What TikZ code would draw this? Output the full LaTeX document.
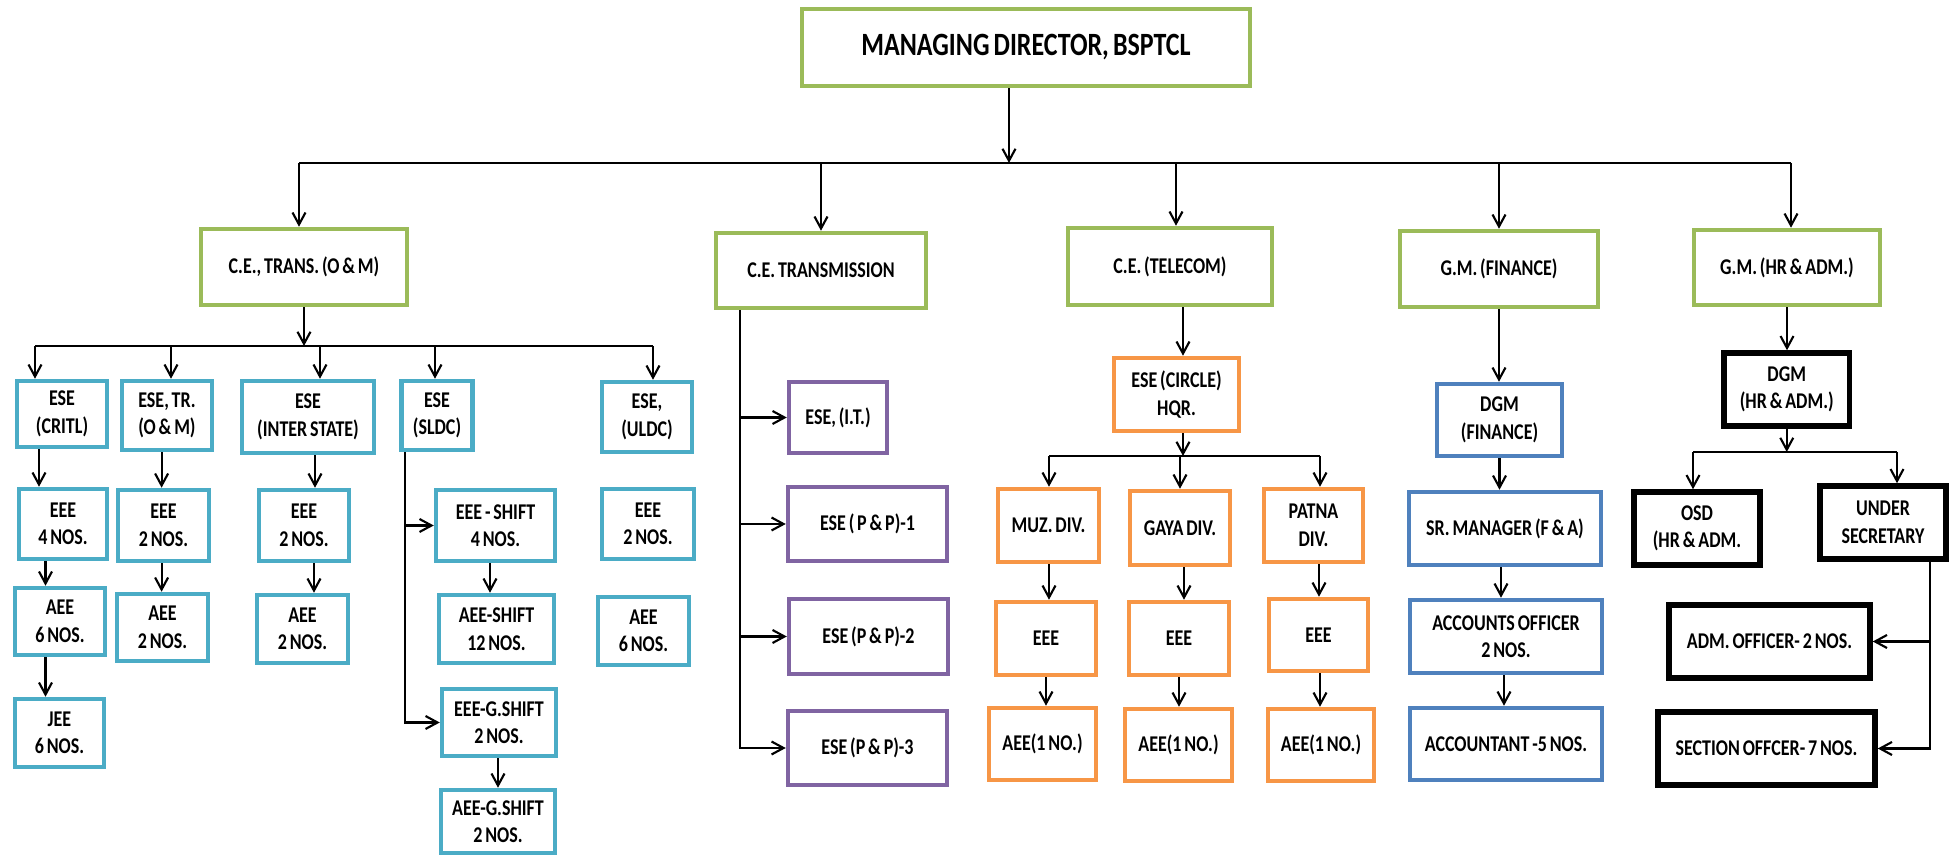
\documentclass[tikz,border=0pt]{standalone}
\usepackage{fontspec}
\setmainfont{Carlito}[FakeStretch=0.8, WordSpace=0.7]
\usetikzlibrary{arrows.meta}

\definecolor{topgreen}{HTML}{9BBB59}
\definecolor{omcyan}{HTML}{4BACC6}
\definecolor{trpurple}{HTML}{8064A2}
\definecolor{telorange}{HTML}{F79646}
\definecolor{finblue}{HTML}{4F81BD}

\tikzset{
  post/.style={draw, line width=1.8pt, fill=white, align=center, inner sep=1pt,
    font=\bfseries\fontsize{9}{11}\selectfont},
  sz/.style 2 args={minimum width={(#1-4)*0.4pt}, minimum height={(#2-4)*0.4pt}},
  gbox/.style={post, draw=topgreen},
  cbox/.style={post, draw=omcyan},
  pbox/.style={post, draw=trpurple},
  obox/.style={post, draw=telorange},
  bbox/.style={post, draw=finblue},
  kbox/.style={post, draw=black, line width=2.2pt},
  bus/.style={line width=1.1pt}
}

\begin{document}
\begin{tikzpicture}[x=0.4pt, y=-0.4pt, >={Straight Barb[length=4.8pt, width=5.2pt]}, line width=0.85pt]
        \useasboundingbox (0,0) rectangle (1954,857);

        % the Managing Director at the top
        \node[gbox, sz={452}{81}, font=\bfseries\fontsize{13}{15}\selectfont] (md) at (1026,47.5) {MANAGING DIRECTOR, BSPTCL};

        % the five boxes under the MD
        \node[gbox, sz={210}{80}] (ceom) at (304,267) {C.E., TRANS. (O \& M)};
        \node[gbox, sz={214}{79}] (cetr) at (821,270.5) {C.E. TRANSMISSION};
        \node[gbox, sz={208}{81}] (cetel) at (1170,266.5) {C.E. (TELECOM)};
        \node[gbox, sz={202}{80}] (gmfin) at (1499,269) {G.M. (FINANCE)};
        \node[gbox, sz={190}{79}] (gmhr) at (1787,267.5) {G.M. (HR \& ADM.)};

        % The bus below the MD
        \coordinate (mdbusL) at (299,163);
        \coordinate (mdbusR) at (1791,163);
        \draw[bus] (mdbusL) -- (mdbusR);
        \draw[->] (md.south -| 1009,0) -- (1009,163);
        \draw[->] (mdbusL) -- (mdbusL |- ceom.north);
        \draw[->] (cetr |- mdbusL) -- (cetr);
        \draw[->] (1176,163) -- (cetel.north -| 1176,0);
        \draw[->] (gmfin |- mdbusL) -- (gmfin);
        \draw[->] (mdbusR) -- (mdbusR |- gmhr.north);

        % first row under C.E., TRANS. (O & M)
        \node[cbox, sz={94}{70}] (critl) at (62,414) {ESE\\(CRITL)};
        \node[cbox, sz={94}{73}] (tromn) at (167,415.5) {ESE, TR.\\(O \& M)};
        \node[cbox, sz={136}{76}] (inter) at (308,417) {ESE\\(INTER STATE)};
        \node[cbox, sz={75}{73}] (sldc) at (437,415.5) {ESE\\(SLDC)};
        \node[cbox, sz={94}{74}] (uldc) at (647,417) {ESE,\\(ULDC)};

        % the bus below C.E., TRANS. (O & M)
        \coordinate (ombusL) at (35,346);
        \coordinate (ombusR) at (653,346);
        \draw[bus] (ombusL) -- (ombusR);
        \draw[->] (ceom) -- (ceom |- ombusL);
        \draw[->] (ombusL) -- (ombusL |- critl.north);
        \draw[->] (171,346) -- (tromn.north -| 171,0);
        \draw[->] (320,346) -- (inter.north -| 320,0);
        \draw[->] (435,346) -- (sldc.north -| 435,0);
        \draw[->] (ombusR) -- (ombusR |- uldc.north);

        % the EEE row
        \node[cbox, sz={92}{74}] (eeea) at (63,524) {EEE\\4 NOS.};
        \node[cbox, sz={95}{75}] (eeeb) at (163.5,525.5) {EEE\\2 NOS.};
        \node[cbox, sz={94}{75}] (eeec) at (304,525.5) {EEE\\2 NOS.};
        \node[cbox, sz={123}{75}] (eeesh) at (495.5,525.5) {EEE - SHIFT\\4 NOS.};
        \node[cbox, sz={96}{74}] (eeee) at (648,524) {EEE\\2 NOS.};

        % the AEE row
        \node[cbox, sz={94}{71}] (aeea) at (60,621.5) {AEE\\6 NOS.};
        \node[cbox, sz={95}{71}] (aeeb) at (162.5,627.5) {AEE\\2 NOS.};
        \node[cbox, sz={95}{72}] (aeec) at (302.5,629) {AEE\\2 NOS.};
        \node[cbox, sz={119}{72}] (aeesh) at (496.5,629) {AEE-SHIFT\\12 NOS.};
        \node[cbox, sz={95}{72}] (aeee) at (643.5,631) {AEE\\6 NOS.};

        % JEE and the G.SHIFT boxes
        \node[cbox, sz={93}{72}] (jee) at (59.5,733) {JEE\\6 NOS.};
        \node[cbox, sz={118}{71}] (eeegs) at (499,722.5) {EEE-G.SHIFT\\2 NOS.};
        \node[cbox, sz={118}{67}] (aeegs) at (498,821.5) {AEE-G.SHIFT\\2 NOS.};

        % Arrow lines down the O & M columns
        \draw[->] (critl.south -| 39,0) -- (eeea.north -| 39,0);
        \draw[->] (eeea.south -| 45.5,0) -- (aeea.north -| 45.5,0);
        \draw[->] (aeea.south -| 45.5,0) -- (jee.north -| 45.5,0);
        \draw[->] (tromn.south -| 161.6,0) -- (eeeb.north -| 161.6,0);
        \draw[->] (eeeb.south -| 161.6,0) -- (aeeb.north -| 161.6,0);
        \draw[->] (inter.south -| 315,0) -- (eeec.north -| 315,0);
        \draw[->] (eeec.south -| 314,0) -- (aeec.north -| 314,0);
        \draw[->] (eeesh.south -| 490,0) -- (aeesh.north -| 490,0);
        \draw[->] (eeegs.south -| 498,0) -- (aeegs.north -| 498,0);

        % the line from ESE (SLDC) to the shift boxes
        \draw[->] (sldc.south -| 405,0) |- (eeesh);
        \draw[->] (sldc.south -| 405,0) |- (eeegs);

        % the boxes under C.E. TRANSMISSION
        \node[pbox, sz={102}{75}] (esit) at (838,417.5) {ESE, (I.T.)};
        \node[pbox, sz={163}{78}] (ppa) at (867.5,524) {ESE ( P \& P)-1};
        \node[pbox, sz={163}{79}] (ppb) at (868.5,636.5) {ESE (P \& P)-2};
        \node[pbox, sz={163}{78}] (ppc) at (867.5,748) {ESE (P \& P)-3};
        \foreach \p in {esit, ppa, ppb, ppc}
        \draw[->] (cetr.south -| 740,0) |- (\p);

        % the boxes under C.E. (TELECOM)
        \node[obox, sz={129}{77}] (circ) at (1176.5,394.5) {ESE (CIRCLE)\\HQR.};
        \draw[->] (cetel.south -| 1183,0) -- (circ.north -| 1183,0);
        \node[obox, sz={105}{77}] (muz) at (1048.5,525.5) {MUZ. DIV.};
        \node[obox, sz={104}{78}] (gaya) at (1180,528) {GAYA DIV.};
        \node[obox, sz={103}{77}] (patna) at (1313.5,525.5) {PATNA\\DIV.};
        \node[obox, sz={104}{77}] (eeem) at (1046,638.5) {EEE};
        \node[obox, sz={104}{77}] (eeeg) at (1179,638.5) {EEE};
        \node[obox, sz={103}{76}] (eeep) at (1318.5,635) {EEE};
        \node[obox, sz={111}{76}] (aeem) at (1042.5,744) {AEE(1 NO.)};
        \node[obox, sz={111}{76}] (aeeg) at (1178.5,745) {AEE(1 NO.)};
        \node[obox, sz={110}{76}] (aeep) at (1321,745) {AEE(1 NO.)};

        % the bus below ESE (CIRCLE)
        \coordinate (telbusL) at (1049,456);
        \coordinate (telbusR) at (1320,456);
        \draw[bus] (telbusL) -- (telbusR);
        \draw[->] (circ.south -| 1183,0) -- (1183,456);
        \draw[->] (telbusL) -- (telbusL |- muz.north);
        \draw[->] (1180,456) -- (gaya);
        \draw[->] (telbusR) -- (telbusR |- patna.north);
        \draw[->] (muz.south -| 1049,0) -- (eeem.north -| 1049,0);
        \draw[->] (eeem.south -| 1046,0) -- (aeem.north -| 1046,0);
        \draw[->] (gaya.south -| 1184,0) -- (eeeg.north -| 1184,0);
        \draw[->] (eeeg.south -| 1179,0) -- (aeeg.north -| 1179,0);
        \draw[->] (patna.south -| 1319,0) -- (eeep.north -| 1319,0);
        \draw[->] (eeep.south -| 1320,0) -- (aeep.north -| 1320,0);

        % the boxes under G.M. (FINANCE)
        \node[bbox, sz={129}{76}] (dgmf) at (1499.5,420) {DGM\\(FINANCE)};
        \node[bbox, sz={196}{77}] (srm) at (1505,528.5) {SR. MANAGER (F \& A)};
        \node[bbox, sz={196}{77}] (aco) at (1506,636.5) {ACCOUNTS OFFICER\\2 NOS.};
        \node[bbox, sz={196}{76}] (acct) at (1506,744) {ACCOUNTANT -5 NOS.};
        \draw[->] (gmfin) -- (gmfin |- dgmf.north);
        \draw[->] (dgmf) -- (dgmf |- srm.north);
        \draw[->] (srm.south -| 1501,0) -- (aco.north -| 1501,0);
        \draw[->] (aco.south -| 1504,0) -- (acct.north -| 1504,0);

        % the boxes under G.M. (HR & ADM.)
        \node[kbox, sz={129.5}{77}] (dgmh) at (1786.75,389.5) {DGM\\(HR \& ADM.)};
        \node[kbox, sz={130}{77}] (osd) at (1697,528.5) {OSD\\(HR \& ADM.};
        \node[kbox, sz={130}{77}] (usec) at (1883,522.5) {UNDER\\SECRETARY};
        \node[kbox, sz={205}{77}] (admo) at (1769.5,641.5) {ADM. OFFICER- 2 NOS.};
        \node[kbox, sz={221}{77}] (seco) at (1766.5,748.5) {SECTION OFFCER- 7 NOS.};
        \draw[->] (gmhr) -- (gmhr |- dgmh.north);

        % the bus below DGM (HR & ADM.)
        \coordinate (hrbusL) at (1693,452);
        \coordinate (hrbusR) at (1897,452);
        \draw[bus] (hrbusL) -- (hrbusR);
        \draw[->] (dgmh) -- (dgmh |- hrbusL);
        \draw[->] (hrbusL) -- (hrbusL |- osd.north);
        \draw[->] (hrbusR) -- (hrbusR |- usec.north);

        % the line from UNDER SECRETARY to the officers
        \draw[->] (usec.south -| 1930,0) |- (admo);
        \draw[->] (usec.south -| 1930,0) |- (seco);
    \end{tikzpicture}
\end{document}
